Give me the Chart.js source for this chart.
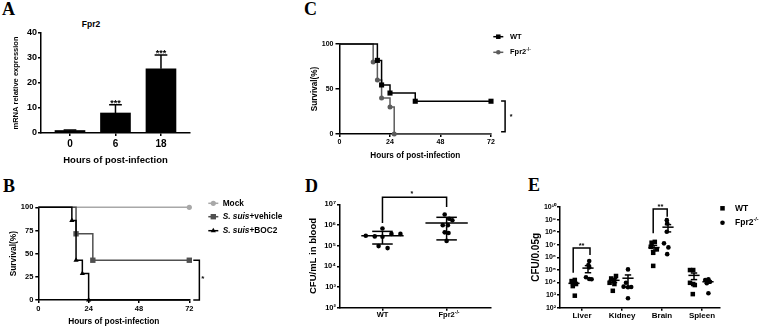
<!DOCTYPE html>
<html>
<head>
<meta charset="utf-8">
<script src="https://cdn.jsdelivr.net/npm/chart.js@4.4.1/dist/chart.umd.min.js"></script>
<style>
  body { margin: 0; background: #fff; }
  #fig { position: relative; width: 760px; height: 327px; overflow: hidden; background: #fff; }
  #fig canvas { position: absolute; }
  .tag { position: absolute; font: bold 18px/18px "Liberation Serif", "Times New Roman", serif; color: #000; }
  .cap { position: absolute; font: bold 8.5px/8.5px "Liberation Sans", Arial, sans-serif; color: #000; }
</style>
</head>
<body>
<div id="fig">
  <div class="tag" style="left:2px;top:0px">A</div>
  <div class="tag" style="left:3px;top:177px">B</div>
  <div class="tag" style="left:304px;top:0px">C</div>
  <div class="tag" style="left:305px;top:177px">D</div>
  <div class="tag" style="left:528px;top:176px">E</div>
  <div class="cap" style="left:74px;top:19.6px;width:34px;text-align:center">Fpr2</div>
  <canvas id="cA"></canvas>
  <canvas id="cB"></canvas>
  <canvas id="cC"></canvas>
  <canvas id="cD"></canvas>
  <canvas id="cE"></canvas>
</div>
<script>
/* ---------- data ---------- */

// A: Fpr2 mRNA
const xLabelsA = ['0', '6', '18'];
const exprMean = [1.0, 8.0, 25.7];
const exprErr = [0.2, 3.3, 5.5];
const starsA = ['', '***', '***'];
const yTicksA = [0, 10, 20, 30, 40];

// B: survival, mock / vehicle / BOC2
const survTicksX = [0, 24, 48, 72];
const survTicksB = [0, 25, 50, 75, 100];
const mockX = [0, 72];
const mockY = [100, 100];
const mockMark = [0, 1];
const vehX = [0, 18, 26, 72];
const vehY = [100, 71.4, 42.9, 42.9];
const vehMark = [0, 1, 1, 1];
const bocX = [0, 16, 18, 21, 24, 72];
const bocY = [100, 85.7, 42.9, 28.6, 0, 0];
const bocMark = [0, 1, 1, 1, 1, 0];

// C: survival, WT / Fpr2-/-
const survTicksC = [0, 50, 100];
const wtX = [0, 18, 20, 24, 36, 72];
const wtY = [100, 81.8, 54.5, 45.5, 36.4, 36.4];
const wtMark = [0, 1, 1, 1, 1, 1];
const koX = [0, 16, 18, 20, 24, 26, 72];
const koY = [100, 80, 60, 40, 30, 0, 0];
const koMark = [0, 1, 1, 1, 1, 1, 0];

// D: CFU/mL in blood
const xLabelsD = ['WT', 'Fpr2'];
const yTicksD = [1e2, 1e3, 1e4, 1e5, 1e6, 1e7];
const dWtJit = [-0.26, -0.12, 0, 0.14, 0.28, 0, -0.06, 0.08];
const dWtVal = [3.0e5, 2.8e5, 2.7e5, 3.7e5, 3.7e5, 6.8e5, 9.5e4, 7.6e4];
const dKoJit = [-0.03, 0.04, 0.09, -0.06, 0.02, -0.03, 0.03, 0];
const dKoVal = [3.2e6, 2.0e6, 1.7e6, 9.8e5, 9.8e5, 4.4e5, 4.1e5, 1.7e5];
const dMean = [3.0e5, 1.25e6];
const dLow = [1.2e5, 1.9e5];
const dHigh = [4.9e5, 2.35e6];

// E: CFU/0.05g per organ
const catsE = ['Liver', 'Kidney', 'Brain', 'Spleen'];
const yTicksE = [1e2, 1e3, 1e4, 1e5, 1e6, 1e7, 1e8, 1e9, 1e10];
const eWtVal = [
  [1.3e4, 1.6e4, 8.7e3, 7.6e3, 5.2e3, 9e2],
  [2.1e4, 1.6e4, 3.3e4, 9.5e3, 7.6e3, 2.2e3],
  [1.45e7, 1.7e7, 6.9e6, 4.3e6, 2.3e6, 2.1e5],
  [9.8e4, 9.8e4, 9.5e3, 7.6e3, 6.3e3, 1.2e3]
];
const eWtJit = [
  [-0.26, -0.18, -0.2, -0.15, -0.23, -0.18],
  [-0.27, -0.2, -0.15, -0.31, -0.19, -0.23],
  [-0.26, -0.18, -0.28, -0.13, -0.22, -0.22],
  [-0.3, -0.22, -0.3, -0.22, -0.18, -0.23]
];
const eKoVal = [
  [5.1e5, 2.5e5, 1.6e5, 2.6e4, 1.9e4, 1.8e4],
  [1.1e5, 9.5e3, 4.7e3, 4.2e3, 4.4e3, 5.6e2],
  [9e8, 5e8, 1.07e8, 1.3e7, 6.2e6, 1.8e6],
  [1.6e4, 1.8e4, 1.15e4, 8.7e3, 1.3e4, 1.4e3]
];
const eKoJit = [
  [0.18, 0.16, 0.18, 0.1, 0.18, 0.24],
  [0.15, 0.1, 0.04, 0.15, 0.23, 0.15],
  [0.12, 0.13, 0.12, 0.05, 0.16, 0.13],
  [0.08, 0.16, 0.2, 0.12, 0.13, 0.16]
];
const eWtMean = [8.6e3, 1.5e4, 6e6, 3.7e4];
const eWtLow = [6.4e3, 1.0e4, 3.5e6, 1.7e4];
const eWtHigh = [1.1e4, 2.0e4, 9e6, 5.7e4];
const eKoMean = [1.4e5, 2.2e4, 2.5e8, 1.15e4];
const eKoLow = [6e4, 4.4e3, 1.05e8, 9e3];
const eKoHigh = [2.2e5, 4e4, 4e8, 1.4e4];

/* ---------- helpers ---------- */

const FONT = '"Liberation Sans", Arial, Helvetica, sans-serif';
Chart.defaults.font.family = FONT;
Chart.defaults.font.weight = 'bold';
Chart.defaults.color = '#000';
Chart.defaults.animation = false;
Chart.defaults.events = [];
Chart.defaults.plugins.legend.display = false;
Chart.defaults.plugins.tooltip.enabled = false;

const SUP = '⁰¹²³⁴⁵⁶⁷⁸⁹';
const sup = s => s.replace(/[0-9-]/g, c => c === '-' ? '⁻' : SUP[+c]);
const logLabel = v => '10' + sup(String(Math.round(Math.log10(v))));

// size the canvas and return layout numbers so the plot area lands where it should
function place(id, cv, ar) {
  const el = document.getElementById(id);
  el.width = cv.w; el.height = cv.h;
  el.style.left = cv.x + 'px'; el.style.top = cv.y + 'px';
  el.style.width = cv.w + 'px'; el.style.height = cv.h + 'px';
  return {
    el,
    padding: { left: 0, top: ar.t - cv.y, right: cv.x + cv.w - ar.r, bottom: 0 },
    yw: ar.l - cv.x,
    xh: cv.y + cv.h - ar.b
  };
}

function axis(L, horiz, o) {
  return {
    type: o.type || 'linear',
    position: horiz ? 'bottom' : 'left',
    min: o.min, max: o.max,
    offset: false,
    border: { display: true, color: '#000', width: 1.5 },
    grid: { drawOnChartArea: false, drawTicks: true, offset: false, tickLength: o.tl || 3, color: '#000', lineWidth: 1.5 },
    ticks: {
      color: '#000', font: { size: o.fs, weight: 'bold' }, padding: o.pad || 0,
      maxRotation: 0, autoSkip: false,
      callback: o.labels ? (v, i) => o.labels[i] : (o.fmt || (v => String(v)))
    },
    afterBuildTicks: s => { s.ticks = o.at.map(v => ({ value: v })); },
    title: o.title ? {
      display: true, text: o.title, color: '#000',
      font: { size: o.tfs, weight: 'bold' },
      padding: horiz ? { top: 0, bottom: o.tp } : { top: o.tp, bottom: 0 }
    } : { display: false },
    afterFit: s => {
      if (horiz) s.height = L.xh; else s.width = L.yw;
      s.paddingLeft = s.paddingRight = s.paddingTop = s.paddingBottom = 0;
    }
  };
}

// brackets, error bars and stars in data coordinates
function marks(spec) {
  return {
    id: 'marks',
    afterDatasetsDraw(chart) {
      const { ctx } = chart, x = chart.scales.x, y = chart.scales.y;
      const P = (a, b) => [x.getPixelForValue(a), y.getPixelForValue(b)];
      ctx.save();
      ctx.strokeStyle = '#000';
      ctx.lineWidth = spec.lw || 1.5;
      (spec.paths || []).forEach(path => {
        ctx.beginPath();
        path.forEach((pt, i) => {
          const [px, py] = P(pt[0], pt[1]);
          i ? ctx.lineTo(px, py) : ctx.moveTo(px, py);
        });
        ctx.stroke();
      });
      ctx.fillStyle = '#000';
      ctx.textAlign = 'center';
      ctx.textBaseline = 'alphabetic';
      ctx.font = 'bold ' + (spec.fs || 9) + 'px ' + FONT;
      (spec.texts || []).forEach(t => {
        const [px, py] = P(t.x, t.y);
        ctx.fillText(t.t, px, py + (t.dy || 0));
      });
      ctx.restore();
    }
  };
}

function summaryPaths(xs, mean, lo, hi, half, cap) {
  const out = [];
  xs.forEach((c, i) => {
    out.push([[c - half, mean[i]], [c + half, mean[i]]]);
    out.push([[c, lo[i]], [c, hi[i]]]);
    out.push([[c - cap, lo[i]], [c + cap, lo[i]]]);
    out.push([[c - cap, hi[i]], [c + cap, hi[i]]]);
  });
  return out;
}

// hand-drawn legends (mixed italic / superscript text)
function legend(items, fs) {
  return {
    id: 'lg',
    afterDraw(chart) {
      const ctx = chart.ctx;
      ctx.save();
      items.forEach(it => {
        ctx.strokeStyle = it.color; ctx.fillStyle = it.color; ctx.lineWidth = 1.5;
        if (it.line) {
          ctx.beginPath(); ctx.moveTo(it.mx - it.line, it.y); ctx.lineTo(it.mx + it.line, it.y); ctx.stroke();
        }
        Chart.helpers.drawPoint(ctx, { pointStyle: it.style, radius: it.r, rotation: 0, borderWidth: 0 }, it.mx, it.y);
        let x = it.tx;
        ctx.fillStyle = '#000'; ctx.textBaseline = 'middle'; ctx.textAlign = 'left';
        it.parts.forEach(p => {
          const size = p.sup ? fs * 0.65 : fs;
          ctx.font = (p.it ? 'italic ' : '') + 'bold ' + size + 'px ' + FONT;
          ctx.fillText(p.t, x, p.sup ? it.y - fs * 0.35 : it.y);
          x += ctx.measureText(p.t).width;
        });
      });
      ctx.restore();
    }
  };
}

const pts = (xs, ys) => xs.map((x, i) => ({ x, y: ys[i] }));

/* ---------- A ---------- */
{
  const L = place('cA', { x: 0, y: 18, w: 200, h: 152 }, { l: 41, t: 33, r: 190, b: 133 });
  const xs = xLabelsA.map((_, i) => i);
  const paths = [];
  const texts = [];
  xs.forEach((c, i) => {
    const top = exprMean[i] + exprErr[i];
    paths.push([[c, exprMean[i]], [c, top]]);
    paths.push([[c - 0.14, top], [c + 0.14, top]]);
    if (starsA[i]) texts.push({ x: c, y: top, t: starsA[i], dy: 1 });
  });
  new Chart(L.el, {
    type: 'bar',
    data: { datasets: [{ data: pts(xs, exprMean), backgroundColor: '#000', barThickness: 30 }] },
    options: {
      responsive: false,
      layout: { padding: L.padding },
      scales: {
        x: axis(L, true, { min: -0.637, max: 2.638, at: xs, labels: xLabelsA, fs: 10, pad: 2, tl: 3,
          title: 'Hours of post-infection', tfs: 9.5, tp: 4 }),
        y: axis(L, false, { min: 0, max: 40, at: yTicksA, fs: 9, pad: 1, tl: 3,
          title: 'mRNA relative expression', tfs: 7.5, tp: 11.5 })
      }
    },
    plugins: [marks({ paths, texts, fs: 9 })]
  });
}

/* ---------- B ---------- */
{
  const L = place('cB', { x: 0, y: 190, w: 290, h: 137 }, { l: 38.3, t: 207.3, r: 189.3, b: 300 });
  const ds = (xs, ys, mk, color, style, r, order) => ({
    data: pts(xs, ys), borderColor: color, backgroundColor: color, borderWidth: 1.5,
    stepped: true, pointStyle: style, pointRadius: mk.map(m => m ? r : 0),
    pointBorderWidth: 0, pointBackgroundColor: color, clip: false, order
  });
  new Chart(L.el, {
    type: 'line',
    data: { datasets: [
      ds(mockX, mockY, mockMark, '#a8a8a8', 'circle', 2.6, 3),
      ds(vehX, vehY, vehMark, '#505050', 'rect', 3.8, 2),
      ds(bocX, bocY, bocMark, '#000', 'triangle', 3, 1)
    ] },
    options: {
      responsive: false,
      layout: { padding: L.padding },
      scales: {
        x: axis(L, true, { min: 0, max: 72, at: survTicksX, fs: 7.5, pad: 1.2, tl: 3,
          title: 'Hours of post-infection', tfs: 8.3, tp: 0 }),
        y: axis(L, false, { min: 0, max: 100, at: survTicksB, fs: 7.5, pad: 2, tl: 3,
          title: 'Survival(%)', tfs: 8.3, tp: 8.5 })
      }
    },
    plugins: [
      marks({ paths: [[[73.9, 42.9], [76.8, 42.9], [76.8, 0], [73.9, 0]]], texts: [{ x: 78.4, y: 25, t: '*', dy: 4.5 }], fs: 8 }),
      legend([
        { mx: 213.3, y: 13.3, line: 5, color: '#a8a8a8', style: 'circle', r: 2.6, tx: 222.7, parts: [{ t: 'Mock' }] },
        { mx: 213.3, y: 26.7, line: 5, color: '#505050', style: 'rect', r: 3.8, tx: 222.7, parts: [{ t: 'S. suis', it: 1 }, { t: '+vehicle' }] },
        { mx: 213.3, y: 40.7, line: 5, color: '#000', style: 'triangle', r: 3, tx: 222.7, parts: [{ t: 'S. suis', it: 1 }, { t: '+BOC2' }] }
      ], 8.3)
    ]
  });
}

/* ---------- C ---------- */
{
  const L = place('cC', { x: 300, y: 0, w: 260, h: 168 }, { l: 339.5, t: 44, r: 491, b: 134 });
  const ds = (xs, ys, mk, color, style, r, order) => ({
    data: pts(xs, ys), borderColor: color, backgroundColor: color, borderWidth: 1.5,
    stepped: true, pointStyle: style, pointRadius: mk.map(m => m ? r : 0),
    pointBorderWidth: 0, pointBackgroundColor: color, clip: false, order
  });
  new Chart(L.el, {
    type: 'line',
    data: { datasets: [
      ds(wtX, wtY, wtMark, '#000', 'rect', 3.6, 1),
      ds(koX, koY, koMark, '#5c5c5c', 'circle', 2.5, 2)
    ] },
    options: {
      responsive: false,
      layout: { padding: L.padding },
      scales: {
        x: axis(L, true, { min: 0, max: 72, at: survTicksX, fs: 7, pad: 1, tl: 3,
          title: 'Hours of post-infection', tfs: 8.2, tp: 7 }),
        y: axis(L, false, { min: 0, max: 100, at: survTicksC, fs: 7, pad: 2, tl: 4,
          title: 'Survival(%)', tfs: 8.2, tp: 9.6 })
      }
    },
    plugins: [
      marks({ paths: [[[76.8, 36.7], [78.7, 36.7], [78.7, 2.6], [76.8, 2.6]]], texts: [{ x: 81.5, y: 22, t: '*', dy: 4.5 }], fs: 7 }),
      legend([
        { mx: 198.3, y: 36.7, line: 5, color: '#000', style: 'rect', r: 3.2, tx: 210, parts: [{ t: 'WT' }] },
        { mx: 198.3, y: 52.3, line: 5, color: '#5c5c5c', style: 'circle', r: 2.3, tx: 210, parts: [{ t: 'Fpr2' }, { t: '-/-', sup: 1 }] }
      ], 7.5)
    ]
  });
}

/* ---------- D ---------- */
{
  const L = place('cD', { x: 280, y: 170, w: 215, h: 157 }, { l: 340, t: 204.3, r: 493, b: 307.7 });
  const xs = xLabelsD.map((_, i) => i);
  const supTick = {
    id: 'supTick',
    afterDraw(chart) {
      const { ctx } = chart, x = chart.scales.x;
      ctx.save();
      ctx.font = 'bold 7.5px ' + FONT;
      const w = ctx.measureText(xLabelsD[1]).width;
      ctx.font = 'bold 5px ' + FONT;
      ctx.fillStyle = '#000'; ctx.textAlign = 'left'; ctx.textBaseline = 'middle';
      ctx.fillText('-/-', x.getPixelForValue(1) + w / 2, x.top + 3 + 4.5 - 2.8);
      ctx.restore();
    }
  };
  new Chart(L.el, {
    type: 'scatter',
    data: { datasets: [
      { data: pts(dWtJit.map(j => 0 + j), dWtVal), pointStyle: 'circle', pointRadius: 2.3, backgroundColor: '#000', pointBorderWidth: 0, clip: false },
      { data: pts(dKoJit.map(j => 1 + j), dKoVal), pointStyle: 'circle', pointRadius: 2.3, backgroundColor: '#000', pointBorderWidth: 0, clip: false }
    ] },
    options: {
      responsive: false,
      layout: { padding: L.padding },
      scales: {
        x: axis(L, true, { min: -0.662, max: 1.692, at: xs, labels: xLabelsD, fs: 7.5, pad: 0, tl: 3 }),
        y: axis(L, false, { type: 'logarithmic', min: 1e2, max: 1e7, at: yTicksD, fmt: logLabel, fs: 7.5, pad: 1, tl: 3,
          title: 'CFU/mL in blood', tfs: 9.5, tp: 27.6 })
      }
    },
    plugins: [
      marks({
        paths: summaryPaths(xs, dMean, dLow, dHigh, 0.33, 0.16)
          .concat([[[0, 1.25e6], [0, 2.2e7], [1, 2.2e7], [1, 7.4e6]]]),
        texts: [{ x: 0.46, y: 2.2e7, t: '*', dy: -1 }], fs: 7
      }),
      supTick
    ]
  });
}

/* ---------- E ---------- */
{
  const L = place('cE', { x: 500, y: 170, w: 260, h: 157 }, { l: 560, t: 207, r: 720, b: 307.7 });
  const xs = catsE.map((_, i) => i);
  const flat = (vals, jit) => {
    const out = [];
    vals.forEach((grp, c) => grp.forEach((v, k) => out.push({ x: c + jit[c][k], y: v })));
    return out;
  };
  new Chart(L.el, {
    type: 'scatter',
    data: { datasets: [
      { data: flat(eWtVal, eWtJit), pointStyle: 'rect', pointRadius: 3.2, backgroundColor: '#000', pointBorderWidth: 0, clip: false },
      { data: flat(eKoVal, eKoJit), pointStyle: 'circle', pointRadius: 2.3, backgroundColor: '#000', pointBorderWidth: 0, clip: false }
    ] },
    options: {
      responsive: false,
      layout: { padding: L.padding },
      scales: {
        x: axis(L, true, { min: -0.55, max: 3.45, at: xs, labels: catsE, fs: 8, pad: 0, tl: 3 }),
        y: axis(L, false, { type: 'logarithmic', min: 1e2, max: 1e10, at: yTicksE, fmt: logLabel, fs: 7, pad: 1, tl: 3,
          title: 'CFU/0.05g', tfs: 10, tp: 29.8 })
      }
    },
    plugins: [
      marks({
        paths: summaryPaths(xs.map(c => c - 0.2), eWtMean, eWtLow, eWtHigh, 0.14, 0.08)
          .concat(summaryPaths(xs.map(c => c + 0.15), eKoMean, eKoLow, eKoHigh, 0.14, 0.08))
          .concat([
            [[-0.22, 6e4], [-0.22, 5.5e6], [0.2, 5.5e6], [0.2, 1.55e6]],
            [[1.78, 8.1e7], [1.78, 6.9e9], [2.13, 6.9e9], [2.13, 1.7e9]]
          ]),
        texts: [
          { x: -0.01, y: 5.5e6, t: '**' },
          { x: 1.96, y: 6.9e9, t: '**' }
        ],
        fs: 7.5
      }),
      legend([
        { mx: 222.5, y: 38.3, line: 0, color: '#000', style: 'rect', r: 3.2, tx: 235, parts: [{ t: 'WT' }] },
        { mx: 222.5, y: 52.7, line: 0, color: '#000', style: 'circle', r: 2.3, tx: 235, parts: [{ t: 'Fpr2' }, { t: '-/-', sup: 1 }] }
      ], 8.5)
    ]
  });
}
</script>
</body>
</html>
